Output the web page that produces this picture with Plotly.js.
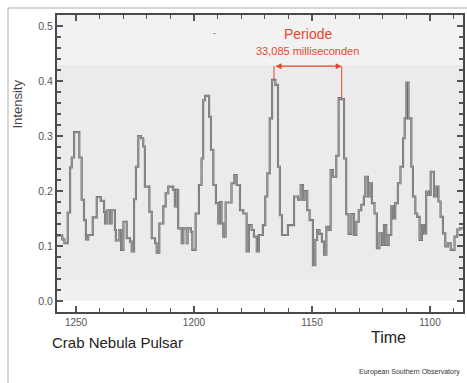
<!DOCTYPE html>
<html>
<head>
<meta charset="utf-8">
<script src="https://cdn.plot.ly/plotly-3.0.1.min.js"></script>
<style>html,body{margin:0;padding:0;background:#fff;}#chart{width:467px;height:383px;}</style>
</head>
<body>
<div id="chart"></div>
<script>
// Step starts (time) and intensity values
var time = [1258.0, 1255.8, 1254.9, 1253.5, 1252.5, 1251.8, 1250.8, 1248.6, 1247.6, 1246.6,
  1245.8, 1244.8, 1242.9, 1241.2, 1239.5, 1238.1, 1237.7, 1236.7, 1235.6, 1234.9,
  1233.5, 1233.1, 1231.6, 1230.9, 1229.9, 1228.5, 1227.1, 1226.4, 1225.4, 1224.6,
  1223.6, 1222.5, 1221.5, 1220.8, 1218.9, 1217.9, 1216.5, 1215.8, 1214.7, 1213.0,
  1212.0, 1210.9, 1208.8, 1208.1, 1207.4, 1206.7, 1205.2, 1204.5, 1203.1, 1202.7,
  1201.3, 1200.7, 1199.3, 1197.9, 1196.8, 1196.1, 1195.3, 1193.6, 1192.8, 1191.8,
  1190.7, 1189.7, 1189.0, 1188.3, 1187.6, 1186.6, 1184.1, 1182.9, 1181.9, 1180.5,
  1179.1, 1177.7, 1176.7, 1175.6, 1174.6, 1173.4, 1172.5, 1170.8, 1169.8, 1168.9,
  1167.9, 1166.9, 1165.5, 1164.4, 1163.6, 1162.7, 1160.2, 1157.6, 1155.9, 1154.8,
  1153.8, 1153.1, 1152.0, 1151.0, 1149.6, 1148.6, 1147.8, 1146.8, 1145.8, 1144.9,
  1143.9, 1142.9, 1142.1, 1141.1, 1139.7, 1138.7, 1137.9, 1136.4, 1135.5, 1134.5,
  1133.3, 1132.2, 1131.2, 1130.2, 1129.1, 1128.0, 1127.4, 1126.3, 1125.6, 1124.6,
  1123.5, 1122.5, 1121.4, 1120.3, 1119.5, 1118.5, 1117.5, 1116.4, 1115.6, 1114.7,
  1113.6, 1112.5, 1111.4, 1110.7, 1110.0, 1109.1, 1107.9, 1107.2, 1106.2, 1105.4,
  1104.4, 1103.4, 1102.5, 1101.6, 1100.6, 1099.7, 1098.3, 1097.3, 1096.4, 1095.5,
  1094.5, 1093.5, 1092.4, 1091.2, 1089.6, 1088.4, 1087.4, 1085.5];
var intensity = [0.119, 0.112, 0.105, 0.161, 0.243, 0.261, 0.307, 0.261, 0.184, 0.147,
  0.112, 0.120, 0.152, 0.189, 0.182, 0.162, 0.141, 0.165, 0.141, 0.165,
  0.129, 0.110, 0.129, 0.093, 0.144, 0.114, 0.108, 0.090, 0.185, 0.244,
  0.300, 0.296, 0.281, 0.208, 0.162, 0.114, 0.105, 0.088, 0.141, 0.172,
  0.196, 0.208, 0.202, 0.172, 0.202, 0.132, 0.105, 0.132, 0.105, 0.132,
  0.126, 0.093, 0.159, 0.211, 0.259, 0.365, 0.373, 0.335, 0.275, 0.211,
  0.178, 0.141, 0.180, 0.141, 0.117, 0.179, 0.214, 0.229, 0.211, 0.165,
  0.159, 0.090, 0.138, 0.129, 0.117, 0.090, 0.120, 0.138, 0.190, 0.232,
  0.332, 0.402, 0.393, 0.244, 0.156, 0.120, 0.138, 0.190, 0.184, 0.211,
  0.184, 0.200, 0.165, 0.147, 0.065, 0.111, 0.129, 0.122, 0.108, 0.084,
  0.135, 0.129, 0.238, 0.226, 0.264, 0.369, 0.367, 0.259, 0.158, 0.122,
  0.158, 0.120, 0.144, 0.165, 0.175, 0.190, 0.226, 0.190, 0.214, 0.178,
  0.159, 0.096, 0.123, 0.102, 0.138, 0.102, 0.120, 0.172, 0.150, 0.178,
  0.214, 0.244, 0.296, 0.332, 0.397, 0.332, 0.244, 0.190, 0.159, 0.153,
  0.111, 0.138, 0.123, 0.199, 0.193, 0.235, 0.190, 0.208, 0.181, 0.153,
  0.123, 0.099, 0.105, 0.093, 0.117, 0.130, 0.132, 0.132];

var xTickVals = [1250, 1200, 1150, 1100];
var yTickVals = [0.0, 0.1, 0.2, 0.3, 0.4, 0.5];

// Period markers (peak times) and annotation texts
var periodStart = 1166.1, periodEnd = 1137.4;
var peakStart = 0.402, peakEnd = 0.369;
var arrowLevel = 0.427;
var periodTitle = "Periode";
var periodText = "33,085 milliseconden";

var FONT = "Liberation Sans, Arial, sans-serif";
var RED = "#e8472f";

var traces = [
  {x: time, y: intensity, type: "scatter", mode: "lines", line: {shape: "hv", color: "#6a6a6a", width: 2.1}, hoverinfo: "skip"},
  {x: time, y: intensity, type: "scatter", mode: "lines", line: {shape: "hv", color: "#bdbdbd", width: 0.6}, hoverinfo: "skip"}
];

function px2paperX(px) { return (px - 57) / 406; }
function px2paperY(py) { return (312 - py) / 297; }

var layout = {
  width: 467, height: 383,
  margin: {l: 57, r: 4, t: 15, b: 71},
  paper_bgcolor: "#ffffff",
  plot_bgcolor: "#ffffff",
  showlegend: false,
  font: {family: FONT, color: "#444"},
  xaxis: {
    range: [1258.05, 1086.0], showgrid: false, zeroline: false,
    tickvals: xTickVals, ticks: "inside", ticklen: 6, tickwidth: 1.3, tickcolor: "#555",
    minor: {dtick: 10, ticks: "inside", ticklen: 4, tickwidth: 1.2, tickcolor: "#555"},
    showline: true, linecolor: "#4a4a4a", linewidth: 2, mirror: "allticks",
    tickfont: {size: 10, color: "#555", family: FONT}
  },
  yaxis: {
    range: [-0.02, 0.52], showgrid: false, zeroline: false,
    tickvals: yTickVals, tickformat: ".1f", ticks: "inside", ticklen: 6, tickwidth: 1.3, tickcolor: "#555",
    minor: {dtick: 0.02, ticks: "inside", ticklen: 4, tickwidth: 1.2, tickcolor: "#555"},
    showline: true, linecolor: "#4a4a4a", linewidth: 2, mirror: "allticks",
    tickfont: {size: 10.5, color: "#555", family: FONT}
  },
  shapes: [
    {type: "rect", xref: "paper", yref: "y", x0: 0, x1: 1, y0: 0.43, y1: 0.52, fillcolor: "#f2f2f2", line: {width: 0}, layer: "below"},
    {type: "rect", xref: "paper", yref: "y", x0: 0, x1: 1, y0: 0.04, y1: 0.43, fillcolor: "#ebebeb", line: {width: 0}, layer: "below"},
    {type: "rect", xref: "paper", yref: "y", x0: 0, x1: 1, y0: 0.0, y1: 0.04, fillcolor: "#efefef", line: {width: 0}, layer: "below"},
    {type: "line", xref: "x", yref: "y", x0: periodStart, x1: periodStart, y0: arrowLevel, y1: peakStart, line: {color: RED, width: 1}},
    {type: "line", xref: "x", yref: "y", x0: periodEnd, x1: periodEnd, y0: arrowLevel, y1: peakEnd, line: {color: RED, width: 1}},
    {type: "line", xref: "paper", yref: "paper", x0: px2paperX(8), x1: px2paperX(467), y0: px2paperY(8), y1: px2paperY(8), line: {color: "#b0b0b0", width: 1}},
    {type: "line", xref: "paper", yref: "paper", x0: px2paperX(8), x1: px2paperX(8), y0: px2paperY(8), y1: px2paperY(383), line: {color: "#b0b0b0", width: 1}}
  ],
  annotations: [
    {x: periodEnd, y: arrowLevel, ax: periodStart, ay: arrowLevel, axref: "x", ayref: "y", xref: "x", yref: "y",
     text: "", showarrow: true, arrowhead: 2, startarrowhead: 2, arrowside: "end+start", arrowsize: 1, arrowwidth: 1.2, arrowcolor: RED},
    {x: (periodStart + periodEnd) / 2, y: 0.485, xref: "x", yref: "y", text: periodTitle, showarrow: false,
     xanchor: "center", yanchor: "middle", font: {size: 14, color: RED, family: FONT}},
    {x: (periodStart + periodEnd) / 2, y: 0.455, xref: "x", yref: "y", text: periodText, showarrow: false,
     xanchor: "center", yanchor: "middle", font: {size: 11, color: RED, family: FONT}},
    {x: 1191.5, y: 0.487, xref: "x", yref: "y", text: "-", showarrow: false, font: {size: 9, color: "#666", family: FONT}},
    {xref: "paper", yref: "paper", x: px2paperX(17.5), y: px2paperY(104), text: "Intensity", textangle: -90, showarrow: false,
     xanchor: "center", yanchor: "middle", font: {size: 13, color: "#444", family: FONT}},
    {xref: "paper", yref: "paper", x: px2paperX(117), y: px2paperY(342), text: "Crab Nebula Pulsar", showarrow: false,
     xanchor: "center", yanchor: "middle", font: {size: 15, color: "#222", family: FONT}},
    {xref: "paper", yref: "paper", x: px2paperX(388), y: px2paperY(337), text: "Time", showarrow: false,
     xanchor: "center", yanchor: "middle", font: {size: 16, color: "#222", family: FONT}},
    {xref: "paper", yref: "paper", x: px2paperX(409), y: px2paperY(372), text: "European Southern Observatory", showarrow: false,
     xanchor: "center", yanchor: "middle", font: {size: 7, color: "#333", family: FONT}}
  ]
};

Plotly.newPlot("chart", traces, layout, {staticPlot: true, displayModeBar: false});
</script>
</body>
</html>
